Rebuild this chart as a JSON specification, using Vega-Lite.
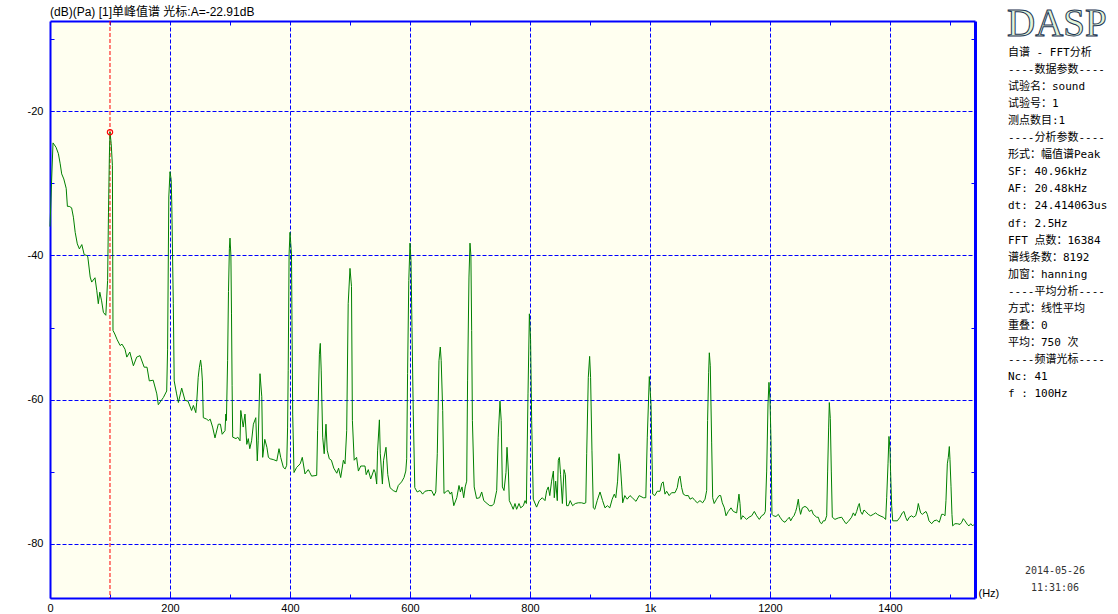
{
  "$schema": "https://vega.github.io/schema/vega-lite/v6.json",
  "padding": {"left": 27, "top": 4, "right": 0, "bottom": 0},
  "background": "white",
  "spacing": 33,
  "bounds": "flush",
  "config": {"view": {"stroke": null}, "axis": {"labelFont": "Liberation Sans", "titleFont": "Liberation Sans"}},
  "datasets": {
    "cursor": [{"f": 100, "a": -22.91}],
    "logo": [{"line": 0, "t": "DASP"}],
    "stamp": [{"line": 31, "t": "2014-05-26"}, {"line": 32, "t": "11:31:06"}],
    "info": [
      {"line": 1, "t": "自谱 - FFT分析"},
      {"line": 2, "t": "----数据参数----"},
      {"line": 3, "t": "试验名：sound"},
      {"line": 4, "t": "试验号：1"},
      {"line": 5, "t": "测点数目:1"},
      {"line": 6, "t": "----分析参数----"},
      {"line": 7, "t": "形式：幅值谱Peak"},
      {"line": 8, "t": "SF: 40.96kHz"},
      {"line": 9, "t": "AF: 20.48kHz"},
      {"line": 10, "t": "dt: 24.414063us"},
      {"line": 11, "t": "df: 2.5Hz"},
      {"line": 12, "t": "FFT 点数：16384"},
      {"line": 13, "t": "谱线条数：8192"},
      {"line": 14, "t": "加窗：hanning"},
      {"line": 15, "t": "----平均分析----"},
      {"line": 16, "t": "方式：线性平均"},
      {"line": 17, "t": "重叠：0"},
      {"line": 18, "t": "平均：750 次"},
      {"line": 19, "t": "----频谱光标----"},
      {"line": 20, "t": "Nc: 41"},
      {"line": 21, "t": "f : 100Hz"}
    ],
    "spec": [
      {"f":0,"a":-36.0},{"f":2.5,"a":-30.0},{"f":5,"a":-24.4},{"f":10,"a":-25.0},{"f":14,"a":-25.9},{"f":17,"a":-27.3},{"f":19.5,"a":-28.7},{"f":23,"a":-29.4},{"f":27,"a":-30.7},{"f":29,"a":-33.2},{"f":32,"a":-33.2},{"f":36,"a":-33.4},{"f":39,"a":-34.7},{"f":42,"a":-36.8},{"f":45.5,"a":-38.4},{"f":49,"a":-39.1},{"f":53,"a":-38.5},{"f":57,"a":-39.9},{"f":61,"a":-40.0},{"f":63,"a":-40.2},{"f":67,"a":-43.0},{"f":69.5,"a":-43.7},{"f":75,"a":-43.1},{"f":78,"a":-44.9},{"f":80.5,"a":-46.7},{"f":83,"a":-45.1},{"f":86,"a":-46.3},{"f":89,"a":-47.9},{"f":93,"a":-48.3},{"f":96,"a":-43.5},{"f":97.5,"a":-34.0},{"f":99,"a":-26.1},{"f":100,"a":-22.9},{"f":102,"a":-24.5},{"f":104,"a":-27.5},{"f":105,"a":-50.4},{"f":108,"a":-50.9},{"f":112,"a":-51.7},{"f":117,"a":-52.5},{"f":120,"a":-52.3},{"f":125,"a":-53.0},{"f":128,"a":-54.1},{"f":133,"a":-53.4},{"f":139,"a":-55.3},{"f":144.5,"a":-54.1},{"f":150,"a":-53.9},{"f":157,"a":-55.5},{"f":161.7,"a":-55.5},{"f":165.5,"a":-57.4},{"f":172,"a":-57.3},{"f":178,"a":-59.2},{"f":180.5,"a":-60.7},{"f":189,"a":-59.7},{"f":194.5,"a":-58.8},{"f":196,"a":-53.0},{"f":198,"a":-31.9},{"f":200,"a":-28.4},{"f":202,"a":-29.5},{"f":203,"a":-33.0},{"f":205.5,"a":-46.7},{"f":207,"a":-57.4},{"f":211,"a":-59.2},{"f":214,"a":-60.4},{"f":219.5,"a":-58.4},{"f":225,"a":-60.1},{"f":230,"a":-60.2},{"f":236,"a":-61.5},{"f":239,"a":-60.8},{"f":243,"a":-61.8},{"f":244.5,"a":-60.4},{"f":247,"a":-56.9},{"f":249,"a":-55.5},{"f":251,"a":-54.5},{"f":252.5,"a":-55.5},{"f":254,"a":-57.4},{"f":255.5,"a":-62.5},{"f":261,"a":-62.7},{"f":264,"a":-62.9},{"f":267,"a":-62.7},{"f":271,"a":-63.8},{"f":275,"a":-65.3},{"f":280.5,"a":-63.4},{"f":284,"a":-63.4},{"f":287,"a":-64.8},{"f":291.7,"a":-64.3},{"f":293,"a":-62.0},{"f":294,"a":-62.9},{"f":296,"a":-54.6},{"f":297.5,"a":-45.0},{"f":299,"a":-39.0},{"f":300,"a":-37.6},{"f":301.5,"a":-40.0},{"f":302.5,"a":-48.0},{"f":303.5,"a":-58.0},{"f":304.5,"a":-65.2},{"f":310,"a":-65.4},{"f":313,"a":-65.2},{"f":316.7,"a":-65.7},{"f":318,"a":-61.5},{"f":322,"a":-63.8},{"f":325,"a":-62.0},{"f":328,"a":-66.2},{"f":330.5,"a":-65.4},{"f":333,"a":-66.8},{"f":336,"a":-65.7},{"f":339,"a":-63.4},{"f":343,"a":-62.5},{"f":345.5,"a":-68.5},{"f":347,"a":-65.7},{"f":350,"a":-56.4},{"f":353,"a":-59.6},{"f":354.5,"a":-68.0},{"f":358,"a":-65.5},{"f":361.5,"a":-66.6},{"f":364,"a":-68.0},{"f":367,"a":-68.2},{"f":372,"a":-68.3},{"f":378,"a":-68.5},{"f":381.7,"a":-66.8},{"f":384.5,"a":-68.0},{"f":389,"a":-69.4},{"f":392,"a":-69.6},{"f":394.5,"a":-69.1},{"f":396,"a":-63.8},{"f":397,"a":-56.0},{"f":398.5,"a":-39.8},{"f":400,"a":-36.8},{"f":402.5,"a":-39.8},{"f":403.3,"a":-49.0},{"f":404.5,"a":-62.0},{"f":406.7,"a":-70.1},{"f":411,"a":-69.4},{"f":417,"a":-68.9},{"f":420.5,"a":-68.0},{"f":425,"a":-70.3},{"f":430.5,"a":-69.7},{"f":433,"a":-70.1},{"f":436,"a":-70.6},{"f":444.5,"a":-70.5},{"f":446,"a":-64.3},{"f":449,"a":-53.7},{"f":450.5,"a":-52.2},{"f":452,"a":-55.9},{"f":454.5,"a":-65.2},{"f":457,"a":-67.5},{"f":460,"a":-63.4},{"f":462,"a":-67.0},{"f":465.5,"a":-68.2},{"f":469,"a":-68.4},{"f":473,"a":-69.5},{"f":478,"a":-70.2},{"f":481,"a":-69.5},{"f":484.5,"a":-70.8},{"f":489,"a":-68.4},{"f":491.7,"a":-68.9},{"f":494.5,"a":-64.3},{"f":497,"a":-46.7},{"f":500,"a":-41.8},{"f":502.5,"a":-44.3},{"f":504,"a":-62.9},{"f":507,"a":-68.4},{"f":511,"a":-68.0},{"f":514,"a":-69.9},{"f":518,"a":-69.2},{"f":525,"a":-69.2},{"f":527,"a":-70.4},{"f":530.5,"a":-69.7},{"f":534.5,"a":-71.0},{"f":540,"a":-69.7},{"f":542,"a":-70.1},{"f":544.5,"a":-71.7},{"f":546,"a":-67.1},{"f":549,"a":-62.8},{"f":550.5,"a":-67.5},{"f":554,"a":-71.7},{"f":556,"a":-68.4},{"f":560,"a":-66.6},{"f":563,"a":-70.4},{"f":566.7,"a":-72.2},{"f":572,"a":-72.6},{"f":577,"a":-72.8},{"f":580.5,"a":-71.9},{"f":586,"a":-71.4},{"f":590,"a":-70.8},{"f":593,"a":-69.9},{"f":594.5,"a":-68.2},{"f":596,"a":-56.4},{"f":598,"a":-43.5},{"f":600,"a":-38.3},{"f":601.7,"a":-40.7},{"f":603.3,"a":-50.0},{"f":605.5,"a":-62.0},{"f":608,"a":-72.2},{"f":612,"a":-72.8},{"f":616.7,"a":-72.6},{"f":621,"a":-73.1},{"f":625,"a":-72.7},{"f":630.5,"a":-72.6},{"f":636,"a":-72.6},{"f":640,"a":-73.3},{"f":643,"a":-72.8},{"f":645.5,"a":-67.5},{"f":648.3,"a":-54.6},{"f":650.5,"a":-52.7},{"f":652,"a":-54.6},{"f":654.5,"a":-61.5},{"f":656.7,"a":-73.0},{"f":661,"a":-72.7},{"f":664,"a":-72.6},{"f":667,"a":-73.1},{"f":669.5,"a":-72.8},{"f":673,"a":-74.7},{"f":678,"a":-73.6},{"f":681.7,"a":-71.9},{"f":684,"a":-72.8},{"f":686.7,"a":-72.1},{"f":689.5,"a":-73.6},{"f":692,"a":-72.1},{"f":694.5,"a":-71.3},{"f":696,"a":-57.4},{"f":698.3,"a":-43.0},{"f":700,"a":-38.3},{"f":701.5,"a":-40.0},{"f":702.8,"a":-50.4},{"f":704,"a":-62.9},{"f":707,"a":-72.1},{"f":711,"a":-73.7},{"f":716,"a":-73.6},{"f":719.5,"a":-72.8},{"f":723,"a":-74.0},{"f":728.5,"a":-74.4},{"f":733,"a":-74.7},{"f":737,"a":-74.7},{"f":740,"a":-74.4},{"f":744.5,"a":-72.6},{"f":747,"a":-65.2},{"f":750,"a":-60.2},{"f":752,"a":-62.9},{"f":754,"a":-72.1},{"f":756.7,"a":-72.6},{"f":760,"a":-70.1},{"f":761.7,"a":-66.6},{"f":764,"a":-69.9},{"f":765.5,"a":-74.0},{"f":769.5,"a":-74.7},{"f":772,"a":-75.2},{"f":775,"a":-74.4},{"f":777.7,"a":-75.2},{"f":781.7,"a":-74.4},{"f":784.5,"a":-75.0},{"f":789,"a":-74.7},{"f":791.7,"a":-74.0},{"f":794,"a":-74.4},{"f":796.7,"a":-59.2},{"f":799,"a":-48.1},{"f":801,"a":-51.7},{"f":802.8,"a":-62.9},{"f":805.5,"a":-73.8},{"f":811,"a":-74.9},{"f":815.5,"a":-74.0},{"f":820.5,"a":-73.6},{"f":825,"a":-74.0},{"f":827.8,"a":-72.6},{"f":830.5,"a":-72.1},{"f":833,"a":-73.3},{"f":836,"a":-71.3},{"f":839,"a":-69.9},{"f":840.5,"a":-73.6},{"f":842.8,"a":-71.3},{"f":845.5,"a":-74.0},{"f":847.2,"a":-68.4},{"f":849,"a":-68.0},{"f":851,"a":-70.4},{"f":854,"a":-74.4},{"f":856.7,"a":-69.7},{"f":859,"a":-70.4},{"f":861,"a":-74.7},{"f":864,"a":-74.7},{"f":867,"a":-74.0},{"f":871,"a":-74.7},{"f":875.5,"a":-74.4},{"f":880.5,"a":-74.3},{"f":886,"a":-74.3},{"f":890,"a":-74.4},{"f":893,"a":-74.3},{"f":894.5,"a":-67.5},{"f":897.2,"a":-56.9},{"f":899.4,"a":-54.0},{"f":901,"a":-56.9},{"f":903.3,"a":-67.1},{"f":905.5,"a":-75.0},{"f":908,"a":-75.2},{"f":912,"a":-74.0},{"f":916.7,"a":-72.8},{"f":921,"a":-74.0},{"f":925,"a":-75.0},{"f":929,"a":-74.7},{"f":933,"a":-75.0},{"f":937,"a":-73.8},{"f":940.5,"a":-73.1},{"f":943,"a":-73.6},{"f":946,"a":-71.3},{"f":948.3,"a":-67.5},{"f":950.5,"a":-68.9},{"f":953,"a":-72.1},{"f":954.5,"a":-74.3},{"f":958,"a":-73.3},{"f":962,"a":-73.8},{"f":966.7,"a":-73.3},{"f":970.5,"a":-73.6},{"f":976.7,"a":-74.1},{"f":982,"a":-73.3},{"f":988.9,"a":-73.6},{"f":993,"a":-73.6},{"f":995.5,"a":-65.2},{"f":998.9,"a":-56.8},{"f":1000,"a":-58.3},{"f":1001.7,"a":-60.6},{"f":1003.3,"a":-67.5},{"f":1004.5,"a":-73.1},{"f":1008,"a":-73.3},{"f":1012,"a":-72.7},{"f":1016.7,"a":-72.7},{"f":1019.5,"a":-71.6},{"f":1022,"a":-71.4},{"f":1025,"a":-73.1},{"f":1027.8,"a":-72.7},{"f":1032,"a":-73.3},{"f":1036,"a":-72.9},{"f":1041.7,"a":-72.9},{"f":1045.5,"a":-72.2},{"f":1047.8,"a":-71.0},{"f":1050,"a":-70.6},{"f":1052.8,"a":-72.2},{"f":1055.5,"a":-73.1},{"f":1059.5,"a":-73.3},{"f":1063.9,"a":-73.3},{"f":1066.7,"a":-73.8},{"f":1071,"a":-73.6},{"f":1075,"a":-74.0},{"f":1078.9,"a":-74.3},{"f":1083.3,"a":-74.0},{"f":1087.8,"a":-74.3},{"f":1091.7,"a":-73.8},{"f":1094.5,"a":-72.6},{"f":1096,"a":-62.9},{"f":1097.8,"a":-56.2},{"f":1098.9,"a":-53.5},{"f":1100.5,"a":-55.3},{"f":1102.8,"a":-66.0},{"f":1104.5,"a":-73.6},{"f":1107,"a":-74.4},{"f":1111,"a":-73.8},{"f":1115,"a":-73.3},{"f":1117.8,"a":-73.3},{"f":1120.5,"a":-74.3},{"f":1124,"a":-75.0},{"f":1126.7,"a":-76.1},{"f":1130.5,"a":-75.5},{"f":1135,"a":-75.0},{"f":1138.9,"a":-75.5},{"f":1144.5,"a":-75.7},{"f":1148.3,"a":-73.1},{"f":1150,"a":-74.4},{"f":1151.7,"a":-76.6},{"f":1154.5,"a":-76.1},{"f":1157.2,"a":-76.3},{"f":1161,"a":-76.6},{"f":1165,"a":-76.3},{"f":1169.5,"a":-76.1},{"f":1173.9,"a":-75.5},{"f":1177.8,"a":-76.1},{"f":1182.2,"a":-76.6},{"f":1186.1,"a":-76.1},{"f":1190,"a":-75.9},{"f":1192.2,"a":-75.5},{"f":1194.5,"a":-69.9},{"f":1196.7,"a":-60.6},{"f":1198.3,"a":-57.6},{"f":1200,"a":-59.9},{"f":1201.7,"a":-65.7},{"f":1203.3,"a":-75.9},{"f":1205.5,"a":-76.1},{"f":1210,"a":-76.2},{"f":1213.9,"a":-75.9},{"f":1216.7,"a":-76.3},{"f":1221,"a":-76.8},{"f":1225,"a":-77.0},{"f":1228.9,"a":-76.6},{"f":1232.2,"a":-76.3},{"f":1234.5,"a":-76.8},{"f":1237.8,"a":-76.3},{"f":1240,"a":-76.1},{"f":1242.8,"a":-75.5},{"f":1244.5,"a":-75.0},{"f":1247.2,"a":-73.8},{"f":1248.9,"a":-75.0},{"f":1251,"a":-75.9},{"f":1253.9,"a":-75.0},{"f":1258.3,"a":-74.8},{"f":1262.2,"a":-75.0},{"f":1265.5,"a":-75.5},{"f":1269.5,"a":-75.3},{"f":1272.2,"a":-75.9},{"f":1275,"a":-76.1},{"f":1277.8,"a":-76.3},{"f":1280.5,"a":-76.3},{"f":1283.3,"a":-77.0},{"f":1286.1,"a":-77.2},{"f":1288.9,"a":-76.8},{"f":1291.7,"a":-76.8},{"f":1294.5,"a":-76.1},{"f":1296.1,"a":-69.9},{"f":1297.8,"a":-63.8},{"f":1298.9,"a":-60.4},{"f":1300.5,"a":-62.6},{"f":1302.2,"a":-69.9},{"f":1303.9,"a":-76.3},{"f":1308.3,"a":-76.6},{"f":1313.9,"a":-76.4},{"f":1319.5,"a":-76.3},{"f":1323.3,"a":-76.8},{"f":1326.7,"a":-77.2},{"f":1330.5,"a":-76.9},{"f":1336,"a":-76.3},{"f":1338.9,"a":-75.7},{"f":1341.7,"a":-76.1},{"f":1344.5,"a":-75.5},{"f":1347.2,"a":-74.7},{"f":1348.9,"a":-74.4},{"f":1351,"a":-75.5},{"f":1353.9,"a":-75.9},{"f":1356.7,"a":-75.3},{"f":1359.5,"a":-75.5},{"f":1363.9,"a":-75.9},{"f":1367.8,"a":-76.1},{"f":1372.2,"a":-75.9},{"f":1376.1,"a":-75.7},{"f":1378.9,"a":-75.9},{"f":1383.3,"a":-76.1},{"f":1388.9,"a":-76.3},{"f":1392.8,"a":-76.6},{"f":1394.5,"a":-73.6},{"f":1396.7,"a":-68.9},{"f":1398.3,"a":-65.1},{"f":1400,"a":-66.9},{"f":1401,"a":-70.0},{"f":1402.8,"a":-74.7},{"f":1404.5,"a":-76.8},{"f":1408.3,"a":-76.8},{"f":1412.2,"a":-76.8},{"f":1416.7,"a":-76.3},{"f":1420.5,"a":-75.7},{"f":1423.3,"a":-75.5},{"f":1426.1,"a":-76.3},{"f":1428.9,"a":-76.8},{"f":1432.2,"a":-76.3},{"f":1436.1,"a":-76.1},{"f":1438.9,"a":-76.3},{"f":1442.8,"a":-76.1},{"f":1445.5,"a":-75.3},{"f":1447.2,"a":-74.4},{"f":1448.9,"a":-75.0},{"f":1451.1,"a":-75.7},{"f":1453.9,"a":-75.9},{"f":1456.7,"a":-75.7},{"f":1460,"a":-75.5},{"f":1462.2,"a":-75.9},{"f":1465,"a":-76.8},{"f":1469.5,"a":-77.2},{"f":1473.3,"a":-76.8},{"f":1477.8,"a":-76.7},{"f":1482.2,"a":-77.0},{"f":1486.1,"a":-75.9},{"f":1488.9,"a":-75.9},{"f":1491.7,"a":-76.1},{"f":1493.3,"a":-74.0},{"f":1495.6,"a":-68.9},{"f":1497.2,"a":-68.0},{"f":1498.9,"a":-66.5},{"f":1500,"a":-68.3},{"f":1501.7,"a":-72.0},{"f":1503.3,"a":-75.9},{"f":1504.5,"a":-77.5},{"f":1508.3,"a":-77.2},{"f":1512.2,"a":-77.2},{"f":1516.7,"a":-77.3},{"f":1519.5,"a":-77.0},{"f":1522.2,"a":-76.5},{"f":1525,"a":-76.8},{"f":1528.9,"a":-77.3},{"f":1531.7,"a":-77.5},{"f":1534.5,"a":-77.2},{"f":1537.8,"a":-77.5},{"f":1540,"a":-77.3}
    ]
  },
  "hconcat": [
    {
      "width": 925,
      "height": 577,
      "view": {"fill": "#FFFFF0", "stroke": null},
      "title": {"text": "(dB)(Pa) [1]单峰值谱 光标:A=-22.91dB", "anchor": "start", "frame": "group", "offset": 2, "fontSize": 12, "fontWeight": "normal", "font": "Liberation Sans, Noto Sans CJK SC", "color": "black"},
      "layer": [
        {
          "data": {"name": "cursor"},
          "mark": {"type": "rule", "color": "#FF0000", "strokeDash": [4, 2], "strokeWidth": 1},
          "encoding": {
            "x": {"field": "f", "type": "quantitative", "scale": {"domain": [0, 1541.7], "nice": false, "zero": false},
              "axis": {"orient": "top", "values": [100, 300, 500, 700, 900, 1100, 1300, 1500], "labels": false, "grid": false, "title": null, "tickSize": -4, "tickColor": "#0000FF", "domainColor": "#0000FF", "domainWidth": 2}}
          }
        },
        {
          "data": {"name": "spec"},
          "mark": {"type": "line", "color": "#008000", "strokeWidth": 1},
          "encoding": {
            "x": {"field": "f", "type": "quantitative", "scale": {"domain": [0, 1541.7], "nice": false, "zero": false},
              "axis": {"orient": "bottom", "values": [0, 100, 200, 300, 400, 500, 600, 700, 800, 900, 1000, 1100, 1200, 1300, 1400, 1500],
                "labelExpr": "datum.value == 1000 ? '1k' : (datum.value % 200 == 0 ? '' + datum.value : '')",
                "labelFontSize": 11, "labelColor": "black", "labelPadding": 8, "labelFlush": false,
                "grid": true, "gridColor": "#0000FF", "gridDash": [4, 2], "gridWidth": 1,
                "gridOpacity": {"condition": {"test": "datum.value % 200 == 0 && datum.value > 0", "value": 1}, "value": 0},
                "tickSize": -4, "tickColor": "#0000FF", "domainColor": "#0000FF", "domainWidth": 2,
                "title": "(Hz)", "titleFontSize": 11, "titleFontWeight": "normal", "titleColor": "black", "titleX": 928, "titleY": -5, "titleAlign": "left", "titleBaseline": "middle", "titleAnchor": null}},
            "y": {"field": "a", "type": "quantitative", "scale": {"domain": [-87.5, -7.5], "nice": false, "zero": false},
              "axis": {"orient": "left", "values": [-80, -70, -60, -50, -40, -30, -20, -10],
                "labelExpr": "datum.value % 20 == 0 ? '' + datum.value : ''",
                "labelFontSize": 11, "labelColor": "black", "labelPadding": 11, "labelFlush": false,
                "grid": true, "gridColor": "#0000FF", "gridDash": [4, 2], "gridWidth": 1,
                "gridOpacity": {"condition": {"test": "datum.value % 20 == 0", "value": 1}, "value": 0},
                "tickSize": -4, "tickColor": "#0000FF", "domainColor": "#0000FF", "domainWidth": 2, "title": null}}
          }
        },
        {
          "data": {"name": "cursor"},
          "mark": {"type": "point", "shape": "circle", "filled": false, "color": "#FF0000", "size": 28, "strokeWidth": 1.2, "opacity": 1},
          "encoding": {
            "x": {"field": "f", "type": "quantitative", "scale": {"domain": [0, 1541.7], "nice": false, "zero": false}, "axis": null},
            "y": {"field": "a", "type": "quantitative", "scale": {"domain": [-87.5, -7.5], "nice": false, "zero": false},
              "axis": {"orient": "right", "values": [-70, -50, -30, -10], "labels": false, "grid": false, "title": null, "tickSize": -4, "tickColor": "#0000FF", "domainColor": "#0000FF", "domainWidth": 3}}
          }
        }
      ],
      "resolve": {"axis": {"x": "independent", "y": "independent"}}
    },
    {
      "width": 110,
      "height": 577,
      "layer": [
        {
          "data": {"name": "logo"},
          "mark": {"type": "text", "align": "left", "baseline": "alphabetic", "font": "Liberation Serif", "fontSize": 39, "fill": "#E2F4DA", "stroke": "#1E3552", "strokeWidth": 1, "dx": -1},
          "encoding": {
            "x": {"value": 0},
            "y": {"field": "line", "type": "quantitative", "scale": {"domain": [-0.877, 32.965], "reverse": true, "nice": false, "zero": false}, "axis": null},
            "text": {"field": "t"}
          }
        },
        {
          "data": {"name": "info"},
          "mark": {"type": "text", "align": "left", "baseline": "middle", "font": "DejaVu Sans Mono, Noto Sans CJK SC", "fontSize": 11, "color": "black"},
          "encoding": {
            "x": {"value": 0},
            "y": {"field": "line", "type": "quantitative", "scale": {"domain": [-0.877, 32.965], "reverse": true, "nice": false, "zero": false}, "axis": null},
            "text": {"field": "t"}
          }
        },
        {
          "data": {"name": "stamp"},
          "mark": {"type": "text", "align": "center", "baseline": "middle", "dy": 6.5, "font": "DejaVu Sans Mono", "fontSize": 10, "color": "#333333"},
          "encoding": {
            "x": {"value": 47},
            "y": {"field": "line", "type": "quantitative", "scale": {"domain": [-0.877, 32.965], "reverse": true, "nice": false, "zero": false}, "axis": null},
            "text": {"field": "t"}
          }
        }
      ]
    }
  ]
}
